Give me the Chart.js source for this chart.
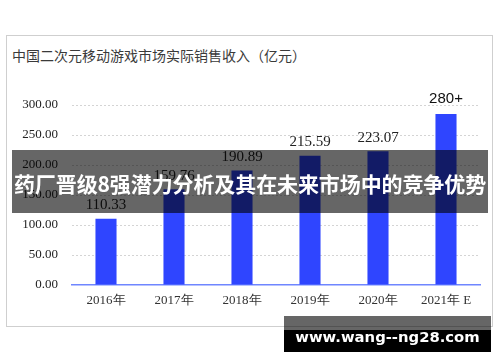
<!DOCTYPE html>
<html>
<head>
<meta charset="utf-8">
<script src="https://cdn.jsdelivr.net/npm/chart.js@4/dist/chart.umd.min.js"></script>
<style>
  html, body { margin: 0; padding: 0; background: #fff; }
  body { width: 500px; height: 362px; position: relative; overflow: hidden; }
  #card { position: absolute; left: 6px; top: 35px; width: 485px; height: 290px; border: 1.5px solid #cfcfcf; box-sizing: content-box; }
  #title { position: absolute; left: 12px; top: 46px; font: 14px "Noto Sans CJK SC", sans-serif; color: #3a3a3a; white-space: nowrap; line-height: 18px; }
  #wrap { position: absolute; left: 0; top: 0; width: 500px; height: 362px; }
  #banner { position: absolute; left: 12px; top: 150px; width: 476px; height: 63px; background: rgba(0,0,0,0.6); color: #fff; font: bold 21px "Noto Sans CJK SC", sans-serif; text-align: center; line-height: 66px; white-space: nowrap; letter-spacing: -0.1px; }
  #wm1 { position: absolute; left: 284px; top: 316px; width: 207px; height: 14px; background: rgba(0,0,0,0.6); }
  #wm2 { position: absolute; left: 284px; top: 330px; width: 207px; height: 22px; background: #000; }
  #wmt { position: absolute; left: 284px; top: 324px; width: 207px; height: 26px; color: #fff; font: bold 14.8px "DejaVu Sans", sans-serif; text-align: center; line-height: 26px; white-space: nowrap; }
</style>
</head>
<body>
<div id="card"></div>
<div id="title">中国二次元移动游戏市场实际销售收入（亿元）</div>
<div id="wrap"><canvas id="c" width="500" height="362"></canvas></div>
<div id="banner">药厂晋级8强潜力分析及其在未来市场中的竞争优势</div>
<div id="wm1"></div>
<div id="wm2"></div>
<div id="wmt">www.wang--ng28.com</div>
<script>
const categories = ["2016年", "2017年", "2018年", "2019年", "2020年", "2021年 E"];
const revenue = [110.33, 159.76, 190.89, 215.59, 223.07, 285];
const valueLabels = ["110.33", "159.76", "190.89", "215.59", "223.07", "280+"];
const yTicks = [0, 50, 100, 150, 200, 250, 300];

const labelPlugin = {
  id: 'valueLabels',
  afterDatasetsDraw(chart) {
    const ctx = chart.ctx;
    const meta = chart.getDatasetMeta(0);
    ctx.save();
    ctx.textAlign = 'center';
    ctx.textBaseline = 'bottom';
    meta.data.forEach((el, i) => {
      const txt = valueLabels[i];
      if (txt.endsWith('+')) {
        ctx.font = '15px "Liberation Sans", Arial, sans-serif';
        ctx.fillStyle = '#111';
        ctx.fillText(txt, el.x, el.y - 8);
      } else {
        ctx.font = '15px "Liberation Serif", "Times New Roman", serif';
        ctx.fillStyle = '#222';
        ctx.fillText(txt, el.x, el.y - 6);
      }
    });
    ctx.restore();
  }
};

new Chart(document.getElementById('c'), {
  type: 'bar',
  data: {
    labels: categories,
    datasets: [{
      data: revenue,
      backgroundColor: '#2f45ff',
      borderWidth: 0,
      barPercentage: 0.31,
      categoryPercentage: 1.0
    }]
  },
  options: {
    responsive: false,
    animation: false,
    events: [],
    layout: { padding: { top: 105, right: 20, bottom: 0, left: 0 } },
    plugins: { legend: { display: false }, tooltip: { enabled: false } },
    scales: {
      x: {
        afterFit(s) { s.height = 77; },
        grid: { display: false, drawTicks: false },
        border: { display: true, color: '#6f86ff', width: 1.5 },
        ticks: {
          padding: 8,
          color: '#333',
          font: { family: '"Liberation Serif", "Times New Roman", serif', size: 13 }
        }
      },
      y: {
        min: 0, max: 300,
        afterFit(s) { s.width = 72; },
        afterBuildTicks(s) { s.ticks = yTicks.map(v => ({ value: v })); },
        border: { display: false, dash: [2, 2] },
        grid: {
          drawTicks: false,
          borderDash: [2, 2],
          color: (c) => c.tick && c.tick.value === 0 ? 'rgba(0,0,0,0)' : '#d4d4d4',
          lineWidth: 1
        },
        ticks: {
          padding: 14,
          color: '#222',
          font: { family: '"Liberation Serif", "Times New Roman", serif', size: 13 },
          callback: (v) => Number(v).toFixed(2)
        }
      }
    }
  },
  plugins: [labelPlugin]
});
</script>
</body>
</html>
